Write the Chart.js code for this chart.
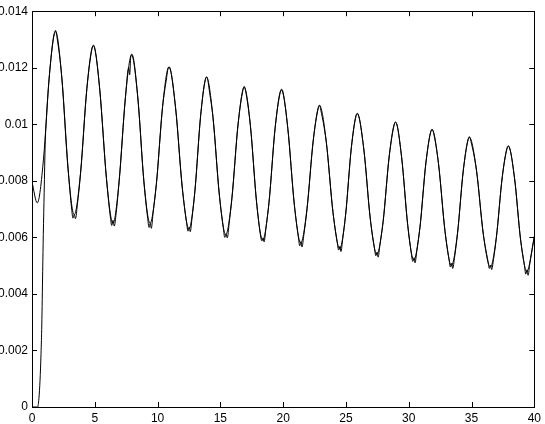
<!DOCTYPE html>
<html>
<head>
<meta charset="utf-8">
<script src="https://cdn.jsdelivr.net/npm/chart.js@4/dist/chart.umd.min.js"></script>
<style>
  html, body { margin: 0; padding: 0; background: #fff; }
  #wrap { width: 545px; height: 424px; }
</style>
</head>
<body>
<div id="wrap"><canvas id="c" width="545" height="424"></canvas></div>
<script>
// Tick values
const xTicks = [0, 5, 10, 15, 20, 25, 30, 35, 40];
const yTicks = [0, 0.002, 0.004, 0.006, 0.008, 0.01, 0.012, 0.014];

// Series A (smooth curve starting near 0.008)
const xA = [0, 0.42, 0.91, 1.39, 1.88, 2.37, 2.87, 3.36, 3.87, 4.37, 4.88, 5.40, 5.93, 6.45, 6.94, 7.44, 7.93, 8.42, 8.91, 9.40, 9.90, 10.40, 10.90, 11.43, 11.97, 12.50, 12.97, 13.43, 13.90, 14.41, 14.92, 15.43, 15.92, 16.41, 16.90, 17.39, 17.88, 18.37, 18.87, 19.36, 19.86, 20.37, 20.89, 21.40, 21.90, 22.40, 22.90, 23.43, 23.97, 24.50, 24.97, 25.43, 25.90, 26.42, 26.94, 27.46, 27.96, 28.45, 28.95, 29.43, 29.92, 30.40, 30.89, 31.37, 31.86, 32.37, 32.89, 33.40, 33.88, 34.35, 34.83, 35.39, 35.94, 36.50, 36.98, 37.45, 37.93, 38.42, 38.91, 39.40, 40];
const yA = [0.00796, 0.00722, 0.00874, 0.01177, 0.01328, 0.01166, 0.00842, 0.00680, 0.00830, 0.01128, 0.01278, 0.01121, 0.00807, 0.00650, 0.00799, 0.01096, 0.01245, 0.01096, 0.00799, 0.00650, 0.00788, 0.01064, 0.01202, 0.01059, 0.00773, 0.00630, 0.00764, 0.01032, 0.01166, 0.01027, 0.00749, 0.00610, 0.00740, 0.01001, 0.01131, 0.00996, 0.00725, 0.00590, 0.00723, 0.00988, 0.01121, 0.00986, 0.00715, 0.00580, 0.00702, 0.00945, 0.01066, 0.00940, 0.00687, 0.00560, 0.00679, 0.00918, 0.01037, 0.00913, 0.00664, 0.00540, 0.00657, 0.00890, 0.01007, 0.00885, 0.00642, 0.00520, 0.00635, 0.00866, 0.00981, 0.00861, 0.00620, 0.00500, 0.00614, 0.00840, 0.00954, 0.00839, 0.00610, 0.00495, 0.00602, 0.00815, 0.00922, 0.00812, 0.00591, 0.00480, 0.00600];

// Series B (noisy curve starting at 0)
const xB = [0, 0.45, 0.55, 0.64, 0.72, 0.78, 0.85, 0.90, 0.97, 1.05, 1.15, 1.39, 1.70, 1.88, 2.00, 2.37, 2.87,
  3.16, 3.26, 3.36, 3.46, 3.61, 3.87, 4.37, 4.78, 4.90, 5.08, 5.40, 5.93,
  6.25, 6.35, 6.45, 6.55, 6.70, 6.94, 7.44, 7.70, 7.78, 7.86, 7.95, 8.42, 8.91,
  9.20, 9.32, 9.42, 9.50, 9.65, 9.90, 10.40, 10.72, 10.82, 10.92, 11.43, 11.97,
  12.30, 12.42, 12.52, 12.60, 12.75, 12.97, 13.43, 13.80, 13.92, 14.15, 14.41, 14.92,
  15.23, 15.35, 15.45, 15.55, 15.70, 15.92, 16.41, 16.80, 16.90, 17.00, 17.39, 17.88,
  18.17, 18.30, 18.40, 18.48, 18.62, 18.87, 19.36, 19.76, 19.86, 20.00, 20.37, 20.89,
  21.20, 21.32, 21.42, 21.50, 21.65, 21.90, 22.40, 22.80, 22.90, 23.00, 23.43, 23.97,
  24.30, 24.42, 24.52, 24.60, 24.75, 24.97, 25.43, 25.80, 25.90, 26.42, 26.94,
  27.26, 27.38, 27.48, 27.56, 27.71, 27.96, 28.45, 28.85, 28.95, 29.43, 29.92,
  30.20, 30.32, 30.42, 30.50, 30.65, 30.89, 31.37, 31.76, 31.86, 32.00, 32.37, 32.89,
  33.20, 33.32, 33.42, 33.50, 33.65, 33.88, 34.35, 34.73, 34.83, 34.95, 35.39, 35.94,
  36.30, 36.42, 36.52, 36.60, 36.75, 36.98, 37.45, 37.83, 37.93, 38.42, 38.91,
  39.20, 39.32, 39.42, 39.50, 39.65, 40];
const yB = [0, 0, 0.0003, 0.00095, 0.0019, 0.0029, 0.0048, 0.0061, 0.0076, 0.0093, 0.0102, 0.01175, 0.01305, 0.01332, 0.01305, 0.01168, 0.00845,
  0.00700, 0.00668, 0.00680, 0.00666, 0.00715, 0.00828, 0.01126, 0.01268, 0.01280, 0.01250, 0.01120, 0.00808,
  0.00668, 0.00642, 0.00660, 0.00640, 0.00685, 0.00800, 0.01094, 0.01200, 0.01175, 0.01238, 0.01248, 0.01098, 0.00796,
  0.00672, 0.00635, 0.00650, 0.00632, 0.00690, 0.00786, 0.01062, 0.01165, 0.01195, 0.01203, 0.01060, 0.00775,
  0.00655, 0.00622, 0.00635, 0.00620, 0.00672, 0.00762, 0.01030, 0.01158, 0.01168, 0.01110, 0.01024, 0.00750,
  0.00635, 0.00600, 0.00612, 0.00598, 0.00650, 0.00738, 0.01000, 0.01122, 0.01134, 0.01120, 0.00995, 0.00726,
  0.00615, 0.00588, 0.00598, 0.00584, 0.00630, 0.00722, 0.00986, 0.01112, 0.01124, 0.01112, 0.00985, 0.00716,
  0.00605, 0.00570, 0.00585, 0.00566, 0.00610, 0.00700, 0.00944, 0.01058, 0.01068, 0.01050, 0.00938, 0.00688,
  0.00585, 0.00555, 0.00568, 0.00550, 0.00598, 0.00678, 0.00917, 0.01030, 0.01039, 0.00912, 0.00665,
  0.00565, 0.00535, 0.00548, 0.00530, 0.00575, 0.00655, 0.00888, 0.01000, 0.01008, 0.00884, 0.00643,
  0.00545, 0.00515, 0.00528, 0.00510, 0.00555, 0.00634, 0.00864, 0.00975, 0.00983, 0.00965, 0.00860, 0.00621,
  0.00525, 0.00495, 0.00508, 0.00490, 0.00530, 0.00612, 0.00838, 0.00946, 0.00956, 0.00940, 0.00838, 0.00611,
  0.00518, 0.00490, 0.00502, 0.00486, 0.00522, 0.00600, 0.00814, 0.00915, 0.00924, 0.00810, 0.00590,
  0.00505, 0.00470, 0.00485, 0.00466, 0.00510, 0.00605];

const toPts = (xs, ys) => xs.map((x, i) => ({ x: x, y: ys[i] }));

const FONT = { family: '"Liberation Sans", Helvetica, Arial, sans-serif', size: 12 };

const boxTicks = {
  id: 'boxTicks',
  afterDraw(chart) {
    const { ctx, chartArea: a, scales: { x, y } } = chart;
    const L = 5;
    ctx.save();
    ctx.strokeStyle = '#000';
    ctx.lineWidth = 1;
    ctx.beginPath();
    x.ticks.forEach(t => {
      const px = Math.round(x.getPixelForValue(t.value)) + 0.5;
      ctx.moveTo(px, a.bottom); ctx.lineTo(px, a.bottom - L);
      ctx.moveTo(px, a.top); ctx.lineTo(px, a.top + L);
    });
    y.ticks.forEach(t => {
      const py = Math.round(y.getPixelForValue(t.value)) + 0.5;
      ctx.moveTo(a.left, py); ctx.lineTo(a.left + L, py);
      ctx.moveTo(a.right, py); ctx.lineTo(a.right - L, py);
    });
    ctx.stroke();
    ctx.strokeRect(Math.round(a.left) + 0.5, Math.round(a.top) + 0.5,
      Math.round(a.right - a.left), Math.round(a.bottom - a.top));
    ctx.restore();
  }
};

new Chart(document.getElementById('c'), {
  type: 'line',
  data: {
    datasets: [
      { data: toPts(xA, yA), borderColor: '#000', borderWidth: 1, pointRadius: 0, cubicInterpolationMode: 'monotone' },
      { data: toPts(xB, yB), borderColor: '#000', borderWidth: 1, pointRadius: 0, cubicInterpolationMode: 'monotone' }
    ]
  },
  options: {
    responsive: false,
    animation: false,
    events: [],
    layout: { padding: { left: 0, top: 10, right: 10, bottom: 0 } },
    plugins: { legend: { display: false }, tooltip: { enabled: false } },
    scales: {
      x: {
        type: 'linear',
        min: 0, max: 40,
        afterBuildTicks: s => { s.ticks = xTicks.map(v => ({ value: v })); },
        ticks: { color: '#000', font: FONT, padding: 4, maxRotation: 0, callback: v => String(v) },
        grid: { display: false, drawTicks: false },
        border: { display: false },
        afterFit: s => { s.height = 17; }
      },
      y: {
        type: 'linear',
        min: 0, max: 0.014,
        afterBuildTicks: s => { s.ticks = yTicks.map(v => ({ value: v })); },
        ticks: { color: '#000', font: FONT, padding: 4, callback: v => String(Number(v.toFixed(3))) },
        grid: { display: false, drawTicks: false },
        border: { display: false },
        afterFit: s => { s.width = 32; }
      }
    }
  },
  plugins: [boxTicks]
});
</script>
</body>
</html>
